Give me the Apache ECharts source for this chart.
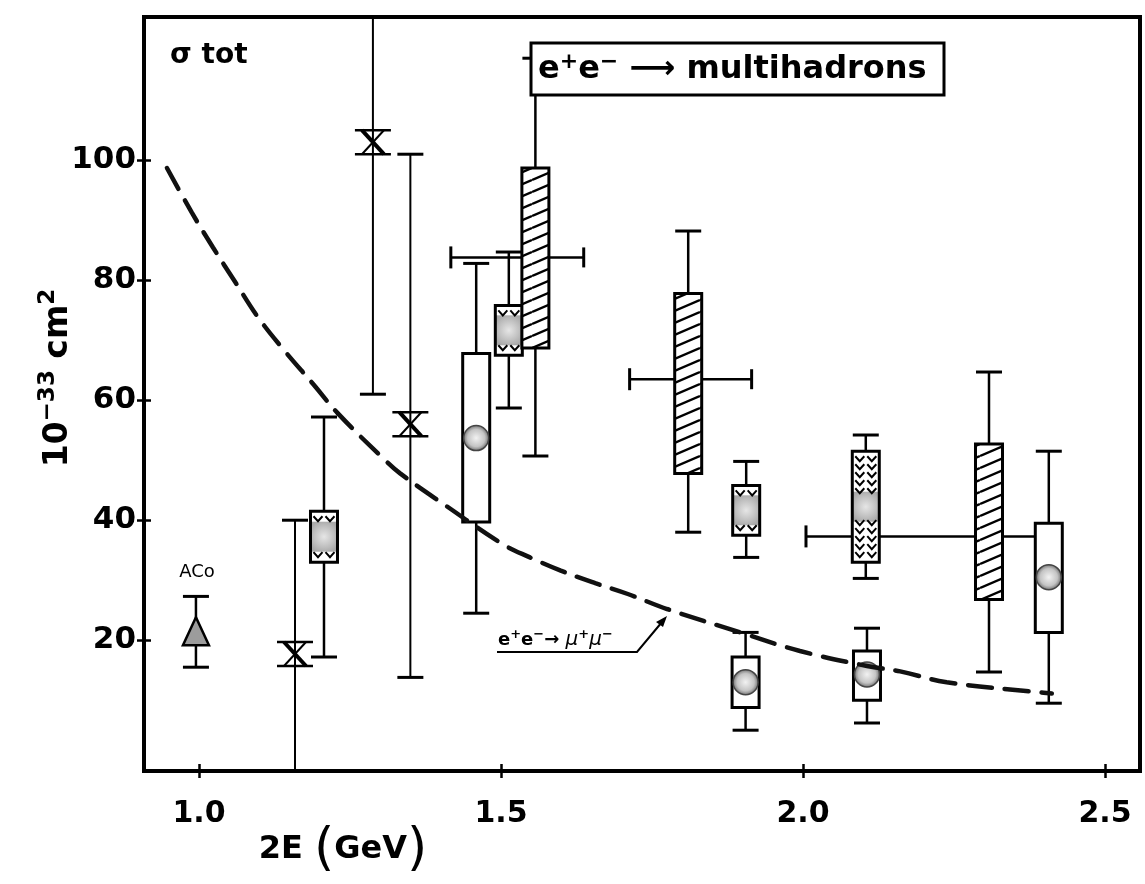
<!DOCTYPE html>
<html>
<head>
<meta charset="utf-8">
<title>sigma tot e+e- -> multihadrons</title>
<script src="https://cdn.jsdelivr.net/npm/echarts@6/dist/echarts.min.js"></script>
<style>
  html, body { margin: 0; padding: 0; background: #fff; }
  #chart { width: 1145px; height: 884px; }
</style>
</head>
<body>
<div id="chart"></div>
<script>
// axis range, 2E in GeV and sigma in 10^-33 cm^2
const xMin = 0.909, xMax = 2.558;
const yMin = -1.8, yMax = 123.87;
const xTicks = [1.0, 1.5, 2.0, 2.5];
const yTicks = [20, 40, 60, 80, 100];

// ACO point (triangle)
const acoX = [0.995];
const acoY = [21.5];
const acoLo = [15.5];
const acoHi = [27.3];

// X markers
const crossX = [1.159, 1.288, 1.35];
const crossY = [17.7, 103, 56];
const crossLo = [-5, 61, 13.8];
const crossHi = [40, 130, 101];

// open boxes with a dot
const dotX = [1.459, 1.905, 2.106, 2.407];
const dotY = [53.7, 13, 14.3, 30.5];
const dotBoxLo = [39.7, 8.8, 10, 21.3];
const dotBoxHi = [67.8, 17.2, 18.2, 39.5];
const dotErrLo = [24.5, 5, 6.2, 9.5];
const dotErrHi = [82.8, 21.3, 22, 51.5];

// grey boxes with chevrons
const chevX = [1.207, 1.513, 1.906, 2.104];
const chevBoxLo = [33, 67.5, 37.5, 33];
const chevBoxHi = [41.5, 75.8, 45.8, 51.5];
const chevErrLo = [17.2, 58.7, 33.8, 30.3];
const chevErrHi = [57.2, 84.7, 49.8, 54.2];

// hatched boxes
const hatchX = [1.557, 1.81, 2.308];
const hatchBoxLo = [68.7, 47.8, 26.8];
const hatchBoxHi = [98.7, 77.8, 52.7];
const hatchErrLo = [50.7, 38, 14.7];
const hatchErrHi = [117, 88.2, 64.7];
// energy spread of the hatched points
const spreadLo = [1.417, 1.713, 2.005];
const spreadHi = [1.637, 1.915, 2.405];
const spreadAt = [83.8, 63.5, 37.3];

// e+e- -> mu+mu- curve
const muX = [0.947, 0.988, 1.023, 1.06, 1.098, 1.142, 1.189, 1.23, 1.305, 1.333, 1.412, 1.503,
  1.548, 1.599, 1.656, 1.71, 1.775, 1.896, 1.995, 2.106, 2.161, 2.238, 2.392, 2.412];
const muY = [98.7, 91.3, 85.5, 79.7, 73.8, 68.2, 62.7, 57.8, 50.3, 47.8, 42.2, 36.0,
  33.8, 31.6, 29.5, 27.7, 25.2, 21.3, 18.2, 15.7, 14.8, 13, 11.3, 11.1];

const BW = 27;  // box width px
const CAP = 13; // half cap width px
const FONT = '"DejaVu Sans", sans-serif';

// hatch tile
const hatch = document.createElement('canvas');
hatch.width = 28;
hatch.height = 12;
(function () {
  const g = hatch.getContext('2d');
  g.fillStyle = '#fff';
  g.fillRect(0, 0, 28, 12);
  g.strokeStyle = '#000';
  g.lineWidth = 2.4;
  for (const off of [-12, 0, 12]) {
    g.beginPath();
    g.moveTo(0, 12 + off);
    g.lineTo(28, off);
    g.stroke();
  }
})();

const dotFill = new echarts.graphic.RadialGradient(0.5, 0.5, 0.5, [
  { offset: 0, color: '#f2f2f2' },
  { offset: 0.65, color: '#c4c4c4' },
  { offset: 1, color: '#6a6a6a' }
]);
const greyFill = new echarts.graphic.RadialGradient(0.5, 0.5, 0.6, [
  { offset: 0, color: '#e6e6e6' },
  { offset: 0.6, color: '#c2c2c2' },
  { offset: 1, color: '#a9a9a9' }
]);

function seg(x1, y1, x2, y2, w) {
  return { type: 'line', shape: { x1, y1, x2, y2 }, style: { stroke: '#000', lineWidth: w } };
}

function errorBar(api, x, lo, hi, out) {
  const a = api.coord([x, lo]);
  const b = api.coord([x, hi]);
  out.push(seg(a[0], a[1], b[0], b[1], 2.5));
  out.push(seg(a[0] - CAP, a[1], a[0] + CAP, a[1], 3));
  out.push(seg(b[0] - CAP, b[1], b[0] + CAP, b[1], 3));
}

function renderAco(params, api) {
  const x = api.value(0);
  const c = api.coord([x, api.value(1)]);
  const out = [];
  errorBar(api, x, api.value(2), api.value(3), out);
  out.push({
    type: 'polygon',
    shape: { points: [[c[0], c[1] - 14], [c[0] - 13, c[1] + 14], [c[0] + 13, c[1] + 14]] },
    style: { fill: '#9c9c9c', stroke: '#000', lineWidth: 2.5 }
  });
  return { type: 'group', children: out };
}

function renderCross(params, api) {
  const x = api.value(0);
  const c = api.coord([x, api.value(1)]);
  const out = [];
  const a = api.coord([x, api.value(2)]);
  const b = api.coord([x, api.value(3)]);
  out.push(seg(a[0], a[1], b[0], b[1], 2));
  out.push(seg(a[0] - CAP, a[1], a[0] + CAP, a[1], 3));
  out.push(seg(b[0] - CAP, b[1], b[0] + CAP, b[1], 3));
  const cx = c[0], cy = c[1];
  out.push(seg(cx - 18, cy - 12, cx + 18, cy - 12, 2.5));
  out.push(seg(cx - 18, cy + 12, cx + 18, cy + 12, 2.5));
  out.push(seg(cx - 11, cy - 12, cx + 11, cy + 12, 4));
  out.push(seg(cx + 11, cy - 12, cx - 11, cy + 12, 2));
  return { type: 'group', children: out };
}

function renderDot(params, api) {
  const x = api.value(0);
  const c = api.coord([x, api.value(1)]);
  const lo = api.coord([x, api.value(2)]);
  const hi = api.coord([x, api.value(3)]);
  const out = [];
  errorBar(api, x, api.value(4), api.value(5), out);
  out.push({
    type: 'rect',
    shape: { x: c[0] - BW / 2, y: hi[1], width: BW, height: lo[1] - hi[1] },
    style: { fill: '#fff', stroke: '#000', lineWidth: 3 }
  });
  out.push({
    type: 'circle',
    shape: { cx: c[0], cy: c[1], r: 12.5 },
    style: { fill: dotFill, stroke: '#444', lineWidth: 1.5 }
  });
  return { type: 'group', children: out };
}

function renderChevron(params, api) {
  const x = api.value(0);
  const lo = api.coord([x, api.value(1)]);
  const hi = api.coord([x, api.value(2)]);
  const out = [];
  errorBar(api, x, api.value(3), api.value(4), out);
  const cx = lo[0];
  const left = cx - BW / 2, top = hi[1], h = lo[1] - hi[1];
  const cy = top + h / 2;
  const gh = Math.min(h, 30);
  out.push({ type: 'rect', shape: { x: left, y: top, width: BW, height: h }, style: { fill: '#fff' } });
  out.push({ type: 'rect', shape: { x: left, y: cy - gh / 2, width: BW, height: gh }, style: { fill: greyFill } });
  const rows = [];
  for (let y = top + 5; y <= Math.max(top + 5, cy - gh / 2 - 2); y += 8) rows.push(y);
  for (let y = top + h - 10; y >= Math.min(top + h - 10, cy + gh / 2 - 2); y -= 8) rows.push(y);
  rows.forEach(function (y) {
    [-6, 6].forEach(function (dx) {
      out.push({
        type: 'polyline',
        shape: { points: [[cx + dx - 4.5, y], [cx + dx, y + 5], [cx + dx + 4.5, y]] },
        style: { stroke: '#000', lineWidth: 2, fill: null }
      });
    });
  });
  out.push({
    type: 'rect',
    shape: { x: left, y: top, width: BW, height: h },
    style: { fill: null, stroke: '#000', lineWidth: 3 }
  });
  return { type: 'group', children: out };
}

function renderHatch(params, api) {
  const x = api.value(0);
  const lo = api.coord([x, api.value(1)]);
  const hi = api.coord([x, api.value(2)]);
  const out = [];
  errorBar(api, x, api.value(3), api.value(4), out);
  out.push({
    type: 'rect',
    shape: { x: lo[0] - BW / 2, y: hi[1], width: BW, height: lo[1] - hi[1] },
    style: { fill: { image: hatch, repeat: 'repeat' }, stroke: '#000', lineWidth: 3 }
  });
  return { type: 'group', children: out };
}

function renderSpread(params, api) {
  const a = api.coord([api.value(0), api.value(2)]);
  const b = api.coord([api.value(1), api.value(2)]);
  return {
    type: 'group',
    children: [
      seg(a[0], a[1], b[0], b[1], 2.5),
      seg(a[0], a[1] - 11, a[0], a[1] + 11, 3),
      seg(b[0], b[1] - 10, b[0], b[1] + 10, 3)
    ]
  };
}

const chart = echarts.init(document.getElementById('chart'));

const tickStyle = { lineStyle: { color: '#000', width: 2.5 }, length: 7 };
const noLine = { show: false, onZero: false };

chart.setOption({
  animation: false,
  backgroundColor: '#fff',
  grid: {
    left: 144, right: 5, top: 17, bottom: 113,
    show: true, borderColor: '#000', borderWidth: 4
  },
  xAxis: [
    {
      type: 'value', min: xMin, max: xMax, position: 'bottom',
      axisLine: noLine,
      axisTick: Object.assign({ customValues: xTicks, inside: false }, tickStyle),
      axisLabel: {
        customValues: xTicks, margin: 28, color: '#000',
        fontFamily: FONT, fontWeight: 'bold', fontSize: 30,
        formatter: function (v) { return v.toFixed(1); }
      },
      splitLine: { show: false }
    },
    {
      type: 'value', min: xMin, max: xMax, position: 'bottom',
      axisLine: noLine,
      axisTick: Object.assign({ customValues: xTicks, inside: true }, tickStyle),
      axisLabel: { show: false },
      splitLine: { show: false }
    }
  ],
  yAxis: [
    {
      type: 'value', min: yMin, max: yMax, position: 'left',
      axisLine: noLine,
      axisTick: Object.assign({ customValues: yTicks, inside: false }, tickStyle),
      axisLabel: {
        customValues: yTicks, margin: 8, color: '#000',
        fontFamily: FONT, fontWeight: 'bold', fontSize: 31,
        padding: [0, 0, 22, 0]
      },
      splitLine: { show: false }
    },
    {
      type: 'value', min: yMin, max: yMax, position: 'left',
      axisLine: noLine,
      axisTick: Object.assign({ customValues: yTicks, inside: true }, tickStyle),
      axisLabel: { show: false },
      splitLine: { show: false }
    }
  ],
  series: [
    {
      type: 'custom', name: 'spread', clip: true, z: 2,
      renderItem: renderSpread,
      encode: { x: [0, 1], y: 2 },
      data: spreadLo.map((v, i) => [v, spreadHi[i], spreadAt[i]])
    },
    {
      type: 'custom', name: 'ACO', clip: true, z: 3,
      renderItem: renderAco,
      encode: { x: 0, y: 1 },
      data: acoX.map((v, i) => [v, acoY[i], acoLo[i], acoHi[i]])
    },
    {
      type: 'custom', name: 'cross', clip: true, z: 3,
      renderItem: renderCross,
      encode: { x: 0, y: 1 },
      data: crossX.map((v, i) => [v, crossY[i], crossLo[i], crossHi[i]])
    },
    {
      type: 'custom', name: 'dot', clip: true, z: 3,
      renderItem: renderDot,
      encode: { x: 0, y: 1 },
      data: dotX.map((v, i) => [v, dotY[i], dotBoxLo[i], dotBoxHi[i], dotErrLo[i], dotErrHi[i]])
    },
    {
      type: 'custom', name: 'chevron', clip: true, z: 3,
      renderItem: renderChevron,
      encode: { x: 0, y: 1 },
      data: chevX.map((v, i) => [v, chevBoxLo[i], chevBoxHi[i], chevErrLo[i], chevErrHi[i]])
    },
    {
      type: 'custom', name: 'hatch', clip: true, z: 3,
      renderItem: renderHatch,
      encode: { x: 0, y: 1 },
      data: hatchX.map((v, i) => [v, hatchBoxLo[i], hatchBoxHi[i], hatchErrLo[i], hatchErrHi[i]])
    },
    {
      type: 'line', name: 'mumu', z: 4,
      smooth: 0.4, showSymbol: false, symbol: 'none',
      lineStyle: { color: '#111', width: 4.5, type: [24, 13], cap: 'round' },
      data: muX.map((v, i) => [v, muY[i]])
    }
  ],
  graphic: [
    {
      type: 'text', left: 170, top: 42, z: 100,
      style: { text: 'σ tot', fill: '#000', font: 'bold 28px ' + FONT }
    },
    {
      type: 'rect', z: 100,
      shape: { x: 531, y: 43, width: 413, height: 52 },
      style: { fill: '#fff', stroke: '#000', lineWidth: 3 }
    },
    {
      type: 'text', x: 538, y: 70, z: 101,
      style: {
        text: 'e{s|+}e{s|−} ⟶ multihadrons',
        fill: '#000', font: 'bold 32px ' + FONT, verticalAlign: 'middle',
        rich: { s: { fontSize: 22, fontWeight: 'bold', fontFamily: FONT, padding: [0, 0, 16, 0] } }
      }
    },
    {
      type: 'text', x: 197, y: 572, z: 100,
      style: { text: 'ACo', fill: '#000', font: '18px ' + FONT, align: 'center', verticalAlign: 'middle' }
    },
    {
      type: 'text', x: 498, y: 640, z: 100,
      style: {
        text: 'e{s|+}e{s|−}→ {m|μ}{s|+}{m|μ}{s|−}',
        fill: '#000', font: 'bold 18px ' + FONT, verticalAlign: 'middle',
        rich: {
          s: { fontSize: 13, fontWeight: 'bold', fontFamily: FONT, padding: [0, 0, 10, 0] },
          m: { fontSize: 20, fontStyle: 'italic', fontFamily: FONT }
        }
      }
    },
    {
      type: 'polyline', z: 100,
      shape: { points: [[497, 652], [637, 652], [662, 622]] },
      style: { stroke: '#000', lineWidth: 2, fill: null }
    },
    {
      type: 'polygon', z: 100,
      shape: { points: [[667, 616], [656, 622], [663, 627]] },
      style: { fill: '#000' }
    },
    {
      type: 'text', x: 58, y: 378, rotation: Math.PI / 2, z: 100,
      style: {
        text: '10{s|−33} cm{s|2}',
        fill: '#000', font: 'bold 33px ' + FONT, align: 'center', verticalAlign: 'middle',
        rich: { s: { fontSize: 23, fontWeight: 'bold', fontFamily: FONT, padding: [0, 0, 20, 0] } }
      }
    },
    {
      type: 'text', x: 343, y: 850, z: 100,
      style: {
        text: '2E {p|(}GeV{p|)}',
        fill: '#000', font: 'bold 32px ' + FONT, align: 'center', verticalAlign: 'middle',
        rich: { p: { fontSize: 52, fontFamily: FONT, fontWeight: 'normal' } }
      }
    }
  ]
});
</script>
</body>
</html>
